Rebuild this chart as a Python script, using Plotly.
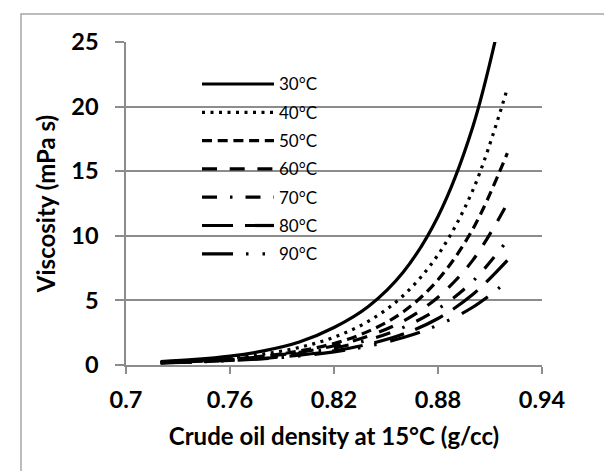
import plotly.graph_objects as go

# ---- data ----
density = [0.72, 0.74, 0.76, 0.78, 0.80, 0.82, 0.84, 0.86, 0.88, 0.90, 0.92]
temps = ["30°C", "40°C", "50°C", "60°C", "70°C", "80°C", "90°C"]
visc_30 = [0.27, 0.43, 0.69, 1.11, 1.78, 2.90, 4.55, 7.20, 11.5, 18.4, 29.3]
visc_40 = [0.22, 0.34, 0.54, 0.86, 1.36, 2.15, 3.40, 5.38, 8.53, 13.5, 21.4]
visc_50 = [0.19, 0.29, 0.45, 0.70, 1.08, 1.67, 2.62, 4.12, 6.60, 10.5, 16.4]
visc_60 = [0.185, 0.28, 0.43, 0.65, 0.98, 1.49, 2.25, 3.40, 5.25, 8.10, 12.5]
visc_70 = [0.18, 0.26, 0.39, 0.59, 0.88, 1.31, 1.95, 2.91, 4.34, 6.47, 9.65]
visc_80 = [0.17, 0.25, 0.36, 0.52, 0.76, 1.10, 1.62, 2.40, 3.60, 5.45, 8.10]
visc_90 = [0.16, 0.23, 0.34, 0.49, 0.70, 1.02, 1.47, 2.13, 3.09, 4.47, 6.47]
x_ticks = [0.70, 0.76, 0.82, 0.88, 0.94]
x_ticktext = ["0.7", "0.76", "0.82", "0.88", "0.94"]
y_ticks = [0, 5, 10, 15, 20, 25]

series = [visc_30, visc_40, visc_50, visc_60, visc_70, visc_80, visc_90]
dashes = ["solid", "3px,5.5px", "10px,5.7px", "15px,12.7px",
          "15px,13px,2.5px,13px", "31px,12px",
          "31px,13px,2.5px,14px,2.5px,14px"]

FONT = "Lato"
GRID = "#8c8c8c"

fig = go.Figure()
for name, vals, dash in zip(temps, series, dashes):
    fig.add_trace(go.Scatter(
        x=density, y=vals, name=name, mode="lines",
        line=dict(color="black", width=3.2, dash=dash, shape="spline"),
        showlegend=False,
    ))

# plot area in pixels: x 118..534, y 34..357
W, H = 612, 471
L, R, T, B = 118, 534, 34, 357
pw, ph = R - L, B - T

def px_x(x):
    return (x - L) / pw

def px_y(y):
    return (B - y) / ph

shapes = []
annotations = []
# legend drawn with long line samples like the original
leg_x0, leg_x1, leg_tx = 194, 266, 269
leg_y0, leg_dy = 76, 28.3
for i, (name, dash) in enumerate(zip(temps, dashes)):
    yy = px_y(leg_y0 + i * leg_dy)
    shapes.append(dict(type="line", xref="paper", yref="paper",
                       x0=px_x(leg_x0), x1=px_x(leg_x1), y0=yy, y1=yy,
                       line=dict(color="black", width=3.2, dash=dash)))
    annotations.append(dict(xref="paper", yref="paper", x=px_x(leg_tx), y=yy,
                            text=name, showarrow=False, xanchor="left",
                            yanchor="middle",
                            font=dict(family=FONT, size=17, color="black")))

# outer chart border (extends past right/bottom edges)
shapes.append(dict(type="rect", xref="paper", yref="paper",
                   x0=px_x(13), x1=px_x(640), y0=px_y(500), y1=px_y(6),
                   line=dict(color="#a6a6a6", width=1.5), layer="below"))

fig.update_layout(
    width=W, height=H,
    margin=dict(l=L, r=W - R, t=T, b=H - B),
    paper_bgcolor="white", plot_bgcolor="white",
    shapes=shapes, annotations=annotations,
    font=dict(family=FONT, color="black"),
)
fig.update_xaxes(
    range=[0.7, 0.94], tickvals=x_ticks, ticktext=x_ticktext,
    showgrid=False, zeroline=False,
    showline=True, linecolor=GRID, linewidth=1.5,
    ticks="outside", ticklen=7, tickcolor=GRID, tickwidth=1.5,
    tickfont=dict(family=FONT, size=23.5, color="black", weight="bold"),
    ticklabelstandoff=6,
    title=dict(text="Crude oil density at 15°C (g/cc)", standoff=16,
               font=dict(family=FONT, size=24, color="black", weight="bold")),
)
fig.update_yaxes(
    range=[0, 25], tickvals=y_ticks,
    showgrid=True, gridcolor=GRID, gridwidth=1.5, zeroline=False,
    showline=True, linecolor=GRID, linewidth=1.5,
    ticks="outside", ticklen=9, tickcolor=GRID, tickwidth=1.5,
    tickfont=dict(family=FONT, size=23.5, color="black", weight="bold"),
    ticklabelstandoff=12,
    title=dict(text="Viscosity (mPa s)", standoff=9,
               font=dict(family=FONT, size=24, color="black", weight="bold")),
)

fig.write_html("out.html")
